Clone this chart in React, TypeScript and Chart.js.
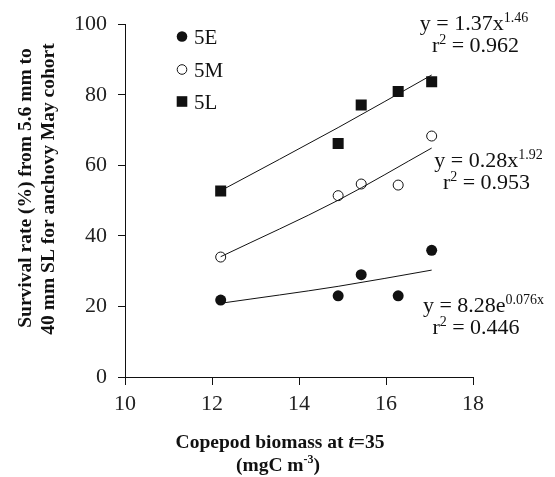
import React, { useEffect, useRef } from 'react';
import { Chart, registerables } from 'chart.js';

Chart.register(...registerables);

// Copepod biomass (x) for each observation
const biomass = [12.2, 14.9, 15.43, 16.28, 17.05];
// Survival rate (%) for each cohort
const survival5E = [21.8, 23.0, 29.0, 23.0, 35.9];
const survival5M = [34.0, 51.4, 54.7, 54.4, 68.3];
const survival5L = [52.7, 66.2, 77.1, 80.9, 83.7];
// Fitted trend lines
const trendX = [12.2, 14.9, 17.05];
const trend5E = [20.9, 25.7, 30.3];
const trend5M = [34.1, 50.1, 64.9];
const trend5L = [52.8, 70.7, 85.6];
// Axis ticks
const xTicks = [10, 12, 14, 16, 18];
const yTicks = [0, 20, 40, 60, 80, 100];
// Labels
const seriesNames = ['5E', '5M', '5L'];
const equations = [
  { base: 'y = 1.37x', sup: '1.46', r2: '0.962' },
  { base: 'y = 0.28x', sup: '1.92', r2: '0.953' },
  { base: 'y = 8.28e', sup: '0.076x', r2: '0.446' },
];

const SERIF = '"Liberation Serif", "Times New Roman", serif';

type Seg = { t: string; font: string; dy?: number };

function drawSegs(ctx: CanvasRenderingContext2D, segs: Seg[], cx: number, y: number) {
  let total = 0;
  for (const s of segs) {
    ctx.font = s.font;
    total += ctx.measureText(s.t).width;
  }
  let x = cx - total / 2;
  ctx.textAlign = 'left';
  ctx.textBaseline = 'alphabetic';
  for (const s of segs) {
    ctx.font = s.font;
    ctx.fillText(s.t, x, y + (s.dy || 0));
    x += ctx.measureText(s.t).width;
  }
}

const annotPlugin = {
  id: 'annot',
  afterDraw(chart: any) {
    const ctx: CanvasRenderingContext2D = chart.ctx;
    ctx.save();
    ctx.fillStyle = '#111';
    ctx.strokeStyle = '#111';

    // legend
    const lx = 182;
    const legendY = [36.5, 69.5, 101.5];
    ctx.beginPath();
    ctx.arc(lx, legendY[0], 5.3, 0, Math.PI * 2);
    ctx.fill();
    ctx.beginPath();
    ctx.lineWidth = 1;
    ctx.arc(lx, legendY[1], 4.8, 0, Math.PI * 2);
    ctx.stroke();
    ctx.fillRect(lx - 5.3, legendY[2] - 5.3, 10.6, 10.6);
    ctx.font = `21px ${SERIF}`;
    ctx.textAlign = 'left';
    ctx.textBaseline = 'alphabetic';
    seriesNames.forEach((n, i) => ctx.fillText(n, lx + 12, legendY[i] + 7.5));

    const big = `22px ${SERIF}`;
    const small = `14px ${SERIF}`;
    const pos = [
      { cx: 474, cx2: 475.5, y1: 30, y2: 52 },
      { cx: 488.5, cx2: 486.5, y1: 167, y2: 189 },
      { cx: 483.5, cx2: 476, y1: 312, y2: 334 },
    ];
    equations.forEach((e, i) => {
      const p = pos[i];
      drawSegs(ctx, [
        { t: e.base, font: big },
        { t: e.sup, font: small, dy: -8 },
      ], p.cx, p.y1);
      drawSegs(ctx, [
        { t: 'r', font: big },
        { t: '2', font: small, dy: -8 },
        { t: ' = ' + e.r2, font: big },
      ], p.cx2, p.y2);
    });

    // x title
    const bold = `bold 19.5px ${SERIF}`;
    const boldIt = `italic bold 19.5px ${SERIF}`;
    const boldSmall = `bold 12px ${SERIF}`;
    drawSegs(ctx, [
      { t: 'Copepod biomass at ', font: bold },
      { t: 't', font: boldIt },
      { t: '=35', font: bold },
    ], 280, 448);
    drawSegs(ctx, [
      { t: '(mgC m', font: bold },
      { t: '-3', font: boldSmall, dy: -8 },
      { t: ')', font: bold },
    ], 278, 471);

    // y title
    ctx.save();
    ctx.translate(31, 188);
    ctx.rotate(-Math.PI / 2);
    drawSegs(ctx, [{ t: 'Survival rate (%) from 5.6 mm to', font: bold }], 0, 0);
    ctx.restore();
    ctx.save();
    ctx.translate(54, 189);
    ctx.rotate(-Math.PI / 2);
    drawSegs(ctx, [{ t: '40 mm SL for anchovy May cohort', font: bold }], 0, 0);
    ctx.restore();

    ctx.restore();
  },
};

function pts(xv: number[], yv: number[]) {
  return xv.map((x, i) => ({ x, y: yv[i] }));
}

export default function App() {
  const ref = useRef<HTMLCanvasElement | null>(null);
  useEffect(() => {
    document.body.style.margin = '0';
    const canvas = ref.current!;
    const trendStyle = {
      type: 'line' as const,
      showLine: true,
      borderColor: '#111',
      borderWidth: 1,
      pointRadius: 0,
      fill: false,
      tension: 0.4,
      cubicInterpolationMode: 'monotone' as const,
    };
    const chart = new Chart(canvas, {
      type: 'scatter',
      data: {
        datasets: [
          { ...trendStyle, label: 't5E', data: pts(trendX, trend5E) },
          { ...trendStyle, label: 't5M', data: pts(trendX, trend5M) },
          { ...trendStyle, label: 't5L', data: pts(trendX, trend5L) },
          {
            label: seriesNames[0],
            data: pts(biomass, survival5E),
            pointStyle: 'circle',
            pointRadius: 5.5,
            backgroundColor: '#111',
            borderColor: '#111',
            borderWidth: 0,
          },
          {
            label: seriesNames[1],
            data: pts(biomass, survival5M),
            pointStyle: 'circle',
            pointRadius: 5,
            backgroundColor: '#fff',
            borderColor: '#111',
            borderWidth: 1,
          },
          {
            label: seriesNames[2],
            data: pts(biomass, survival5L),
            pointStyle: 'rect',
            pointRadius: 7.8,
            backgroundColor: '#111',
            borderColor: '#111',
            borderWidth: 0,
          },
        ] as any,
      },
      options: {
        animation: false,
        responsive: false,
        devicePixelRatio: 1,
        layout: { padding: { left: 0, top: 20, right: 82, bottom: 0 }, autoPadding: false },
        plugins: { legend: { display: false }, tooltip: { enabled: false } },
        scales: {
          x: {
            type: 'linear',
            min: 10,
            max: 18,
            afterFit: (s: any) => { s.height = 100; },
            afterBuildTicks: (s: any) => { s.ticks = xTicks.map((v) => ({ value: v })); },
            grid: { drawOnChartArea: false, drawTicks: true, tickLength: 8, color: '#111', lineWidth: 1 },
            border: { display: true, color: '#111', width: 1 },
            ticks: { color: '#222', font: { family: SERIF, size: 22 }, padding: 6 },
          },
          y: {
            type: 'linear',
            min: 0,
            max: 100,
            afterFit: (s: any) => { s.width = 125; },
            afterBuildTicks: (s: any) => { s.ticks = yTicks.map((v) => ({ value: v })); },
            grid: { drawOnChartArea: false, drawTicks: true, tickLength: 7, color: '#111', lineWidth: 1 },
            border: { display: true, color: '#111', width: 1 },
            ticks: { color: '#222', font: { family: SERIF, size: 22 }, padding: 11 },
          },
        },
      },
      plugins: [annotPlugin],
    } as any);
    return () => chart.destroy();
  }, []);
  return (
    <div style={{ position: 'absolute', left: 0, top: 0, width: 555, height: 477, background: '#fff' }}>
      <canvas ref={ref} width={555} height={477} style={{ width: 555, height: 477 }} />
    </div>
  );
}
